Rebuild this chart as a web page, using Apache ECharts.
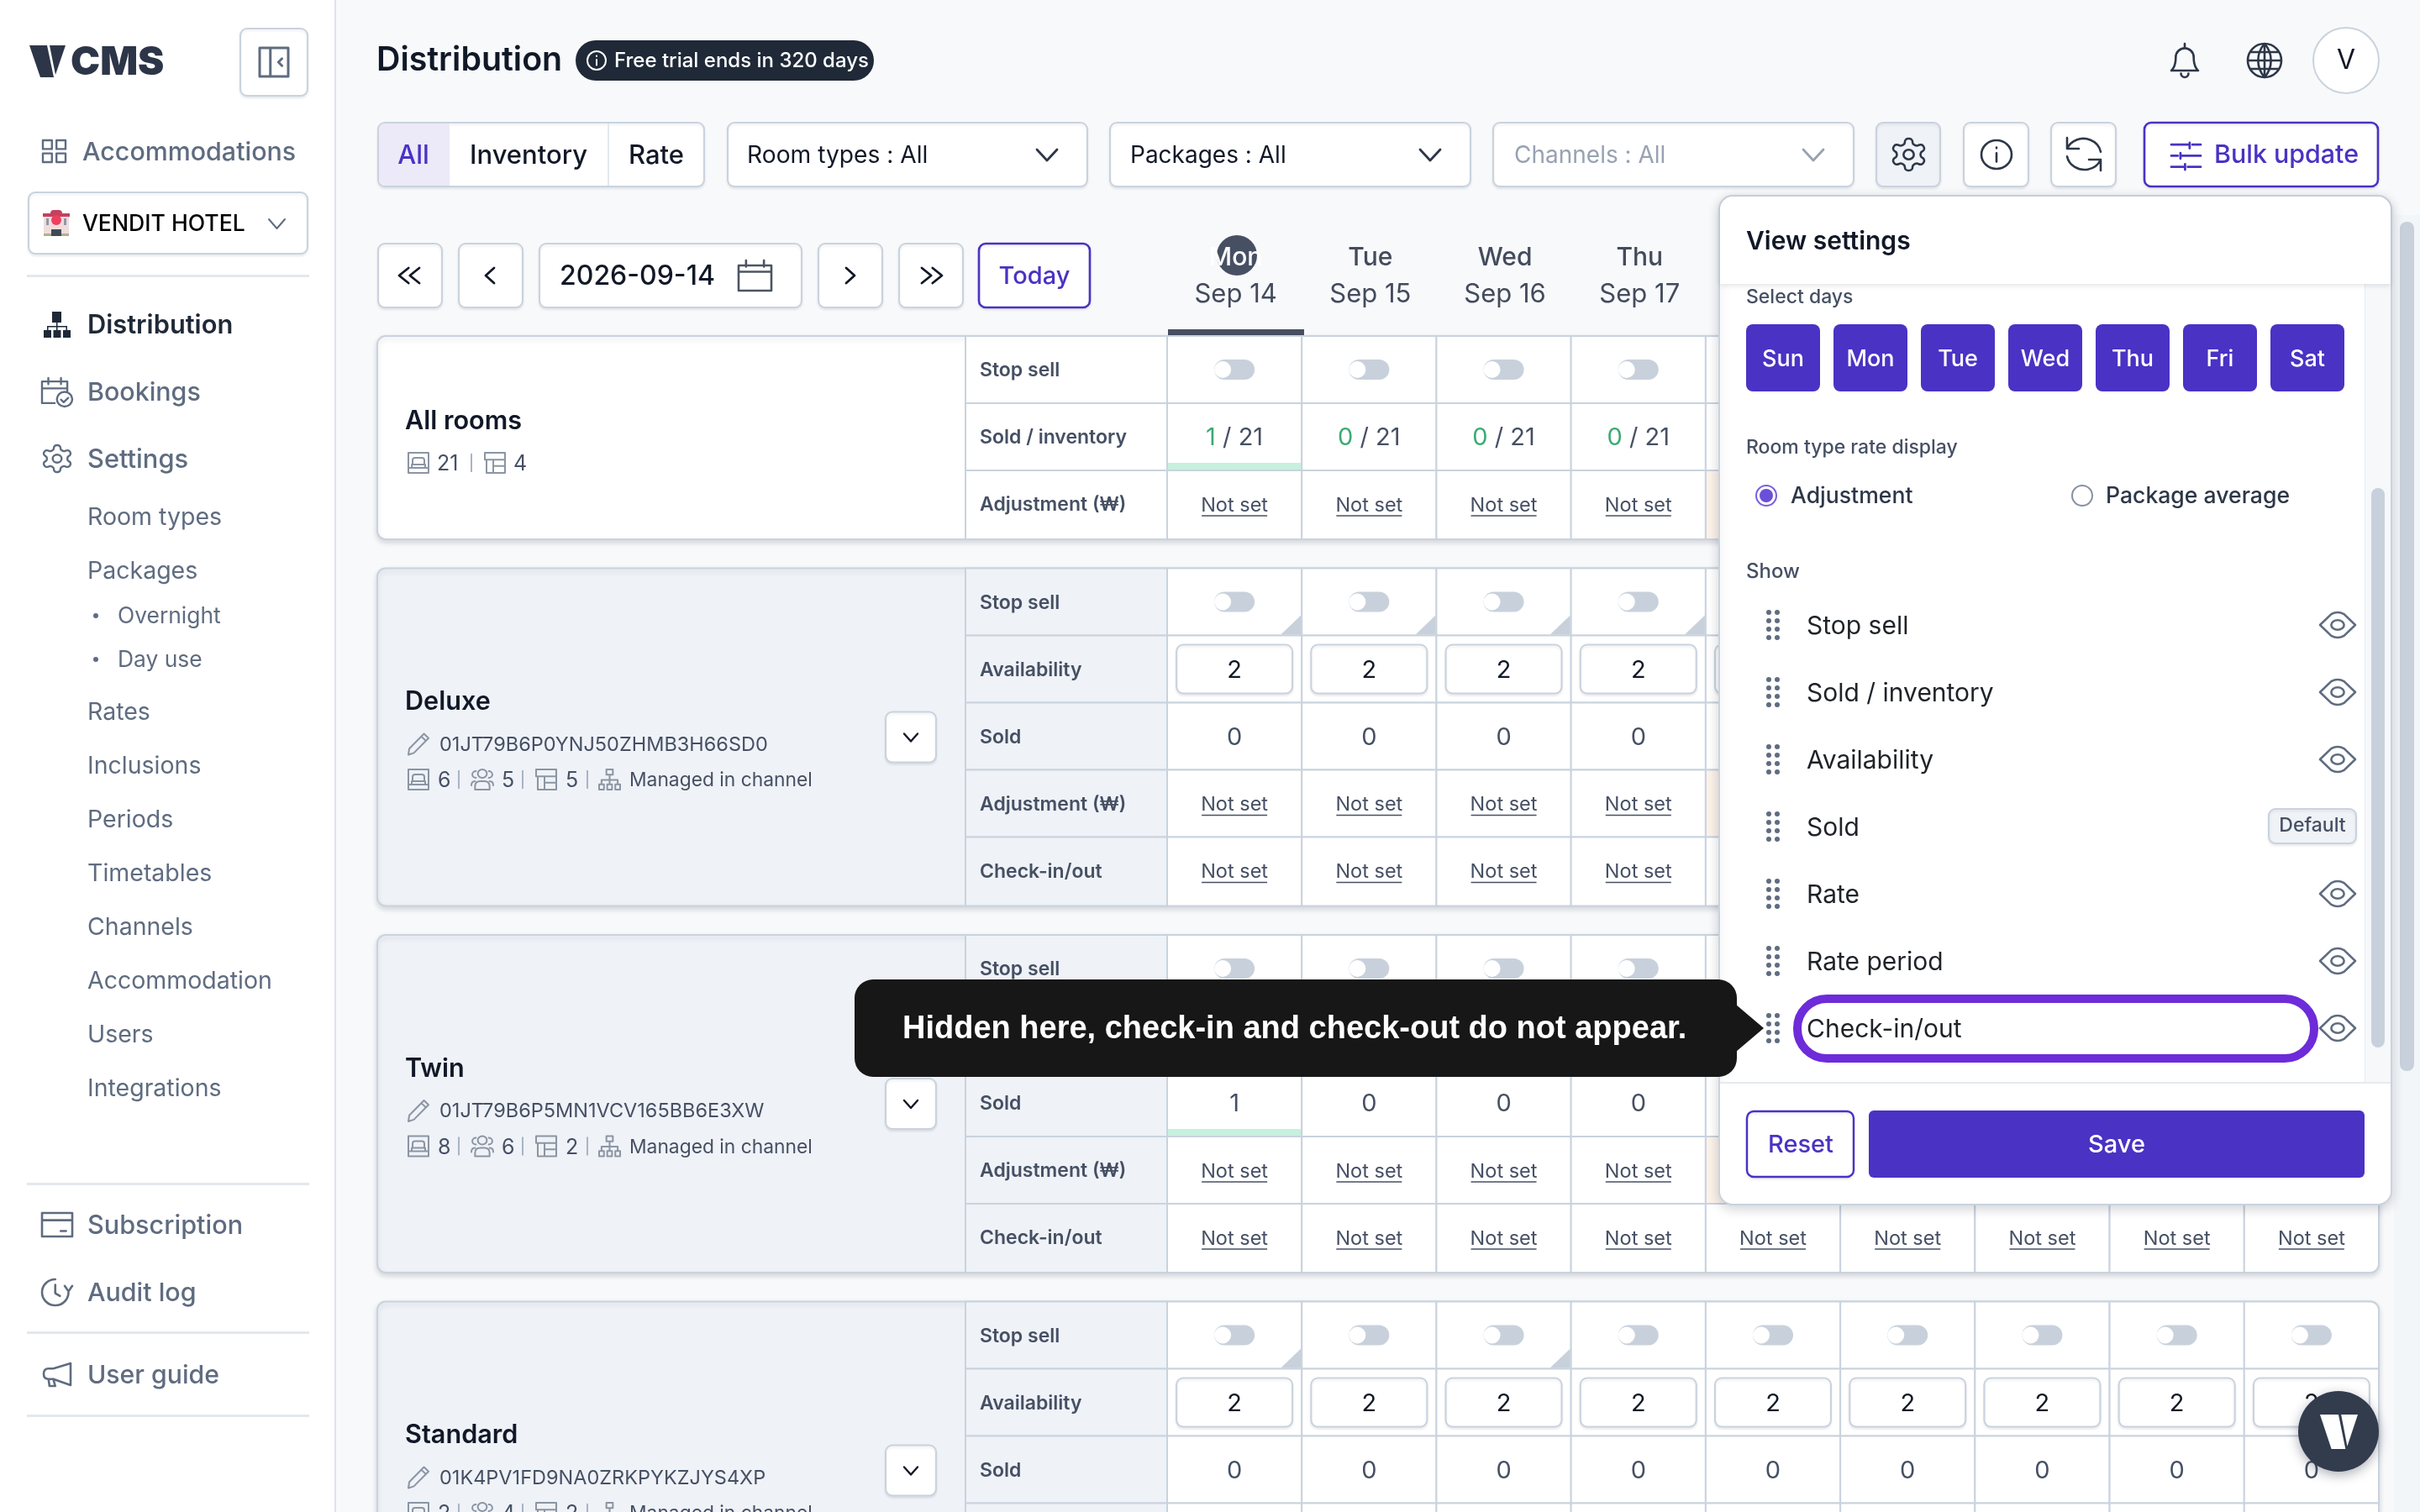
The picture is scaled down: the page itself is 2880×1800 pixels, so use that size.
<!DOCTYPE html>
<html>
<head>
<meta charset="utf-8">
<title>Distribution</title>
<script src="https://cdn.jsdelivr.net/npm/echarts@6/dist/echarts.min.js"></script>
<style>
  html, body { margin: 0; padding: 0; background: #f8f9fb; }
  #chart { width: 2880px; height: 1800px; }
</style>
</head>
<body>
<div id="chart"></div>
<script>
// table data
const weekdays = ['Mon', 'Tue', 'Wed', 'Thu', 'Fri', 'Sat', 'Sun', 'Mon', 'Tue']
const dates = ['Sep 14', 'Sep 15', 'Sep 16', 'Sep 17', 'Sep 18', 'Sep 19', 'Sep 20', 'Sep 21', 'Sep 22']
const roomNames = ['All rooms', 'Deluxe', 'Twin', 'Standard']
const roomIds = ['', '01JT79B6P0YNJ50ZHMB3H66SD0', '01JT79B6P5MN1VCV165BB6E3XW', '01K4PV1FD9NA0ZRKPYKZJYS4XP']
const bedCounts = [21, 6, 8, 2]
const guestCounts = [null, 5, 6, 4]
const packageCounts = [4, 5, 2, 2]
const allRoomsRows = ['Stop sell', 'Sold / inventory', 'Adjustment (₩)']
const roomTypeRows = ['Stop sell', 'Availability', 'Sold', 'Adjustment (₩)', 'Check-in/out']
const allRoomsInventory = 21
const allRoomsSold = [1, 0, 0, 0, 0, 0, 0, 0, 0]
const deluxeAvailability = [2, 2, 2, 2, 2, 2, 2, 2, 2]
const deluxeSold = [0, 0, 0, 0, 0, 0, 0, 0, 0]
const twinAvailability = [2, 2, 2, 2, 2, 2, 2, 2, 2]
const twinSold = [1, 0, 0, 0, 0, 0, 0, 0, 0]
const standardAvailability = [2, 2, 2, 2, 2, 2, 2, 2, 2]
const standardSold = [0, 0, 0, 0, 0, 0, 0, 0, 0]
const deluxeCorners = [1, 1, 1, 1, 0, 0, 0, 0, 0]
const twinCorners = [0, 0, 0, 0, 0, 0, 0, 0, 0]
const standardCorners = [1, 0, 1, 0, 0, 0, 0, 0, 0]
const adjustmentTinted = [0, 0, 0, 0, 1, 0, 0, 0, 0]
const standardAdjustmentTinted = [0, 0, 0, 0, 0, 0, 0, 0, 0]

// page text
const sideTop = ['Bookings', 'Settings']
const sideSub = ['Room types', 'Packages']
const sidePackages = ['Overnight', 'Day use']
const sideSettings = ['Rates', 'Inclusions', 'Periods', 'Timetables', 'Channels', 'Accommodation', 'Users', 'Integrations']
const selectDays = ['Sun', 'Mon', 'Tue', 'Wed', 'Thu', 'Fri', 'Sat']
const showRows = ['Stop sell', 'Sold / inventory', 'Availability', 'Sold', 'Rate', 'Rate period', 'Check-in/out']

const PURPLE = '#4a32c4'
const LINE = '#c9d3de'
const INK = '#111827'
const SLATE = '#465064'
const GREY = '#5f6c80'
const ICON_GREY = '#8b95a3'
const FONT = 'Inter'

const ICONS = {
  chevDown: 'M1 1L8 8L15 1',
  chevLeft: 'M8 1L1 8L8 15',
  chevRight: 'M1 1L8 8L1 15',
  dblLeft: 'M8 1L1 8L8 15M16 1L9 8L16 15',
  dblRight: 'M1 1L8 8L1 15M9 1L16 8L9 15',
  panel: 'M2 2H34V34H2ZM14 2V34M27 14L23 18L27 22',
  grid: 'M1 1H11V11H1ZM16 1H26V11H16ZM1 16H11V26H1ZM16 16H26V26H16Z',
  calendar: 'M1 5H23V25H1ZM1 10H23M6 1V6M18 1V6',
  bookings: 'M2 5H30V16M16 30H2V5M2 13H30M9 1V8M23 1V8M27 17a8.5 8.5 0 1 0 0.01 0ZM23 26l3 3l5-5',
  gear: 'M12.22 2h-.44a2 2 0 0 0-2 2v.18a2 2 0 0 1-1 1.73l-.43.25a2 2 0 0 1-2 0l-.15-.08a2 2 0 0 0-2.73.73l-.22.38a2 2 0 0 0 .73 2.73l.15.1a2 2 0 0 1 1 1.72v.51a2 2 0 0 1-1 1.74l-.15.09a2 2 0 0 0-.73 2.73l.22.38a2 2 0 0 0 2.73.73l.15-.08a2 2 0 0 1 2 0l.43.25a2 2 0 0 1 1 1.73V20a2 2 0 0 0 2 2h.44a2 2 0 0 0 2-2v-.18a2 2 0 0 1 1-1.73l.43-.25a2 2 0 0 1 2 0l.15.08a2 2 0 0 0 2.73-.73l.22-.39a2 2 0 0 0-.73-2.73l-.15-.08a2 2 0 0 1-1-1.74v-.5a2 2 0 0 1 1-1.74l.15-.09a2 2 0 0 0 .73-2.73l-.22-.38a2 2 0 0 0-2.73-.73l-.15.08a2 2 0 0 1-2 0l-.43-.25a2 2 0 0 1-1-1.73V4a2 2 0 0 0-2-2zM12 9a3 3 0 1 0 0 6a3 3 0 1 0 0-6z',
  bell: 'M12 4a6 6 0 0 0-6 6c0 7-3 9-3 9h18s-3-2-3-9a6 6 0 0 0-6-6zM9.5 21a2.5 2.5 0 0 0 5 0M12 1v3',
  globe: 'M12 2a10 10 0 1 0 0 20a10 10 0 1 0 0-20zM2 12h20M12 2v20M12 2a15 15 0 0 1 0 20a15 15 0 0 1 0-20zM3.5 7h17M3.5 17h17',
  info: 'M12 2a10 10 0 1 0 0 20a10 10 0 1 0 0-20zM12 11v6M12 7v.5',
  refresh: 'M2 2V9H9M2 9A10.5 10.5 0 0 1 22 11M2 14A10.5 10.5 0 0 0 22 16M15 16H22V23',
  sliders: 'M1 3H19M24 3H33M1 15H8M13 15H33M1 27H14M19 27H33M21 1V7M11 12V18M16 24V30',
  eye: 'M1 12L8 3Q12 0 16 3L23 12L16 21Q12 24 8 21ZM12 8a4 4 0 1 0 0 8a4 4 0 1 0 0-8z',
  bed: 'M1 1H25V25H1ZM1 19H25M6 15V10Q6 7 9 7H17Q20 7 20 10V15M5 19V15H21V19',
  pencil: 'M19 2L24 7L8 24L2 26L3 19ZM16 5L21 10',
  people: 'M13 1a5 5 0 1 0 0.01 0ZM6 3a4 4 0 0 0 0 8M20 3a4 4 0 0 1 0 8M5 25V21Q5 15 11 15H15Q21 15 21 21V25ZM1 20Q1 15 5 15M25 20Q25 15 21 15',
  table: 'M1 1H25V9H1ZM3 9V24H25V9M11 9V24M11 16H25',
  network: 'M10 1H18V7H10ZM14 7V13M4 18V13H24V18M14 13V18M1 18H7V24H1ZM11 18H17V24H11ZM21 18H27V24H21Z',
  card: 'M1 1H35V27H1ZM1 9H35M22 21H28',
  audit: 'M17 1a14 14 0 1 0 14 14M17 7V16L22 19M27 8l4 6l4-6',
  megaphone: 'M30 1V26L12 19H7Q2 19 2 13Q2 7 7 7H12ZM12 19L14 27H8L7 19',
  logoV: 'M0 0H21L29 38H13ZM24 0H43L31 35Z',
  org: 'M10 0H21V13H10ZM15 13H16.5V22H15ZM4 17H28V18.5H4ZM4 17H5.5V22H4ZM26.5 17H28V22H26.5ZM0 22H9V31H0ZM11.5 22H20.5V31H11.5ZM23 22H32V31H23Z'
}

// table layout in row units, one row is 80px on the y axis
const ROW_PX = 80
const LABEL_W = 240
const TITLE_W = 700
const cardGap = 36.5 / ROW_PX

const cells = []
let rowCursor = 0
roomNames.forEach((name, c) => {
  const labels = c === 0 ? allRoomsRows : roomTypeRows
  const sold = [allRoomsSold, deluxeSold, twinSold, standardSold][c]
  const avail = [null, deluxeAvailability, twinAvailability, standardAvailability][c]
  const corners = [null, deluxeCorners, twinCorners, standardCorners][c]
  const tints = c === 3 ? standardAdjustmentTinted : adjustmentTinted
  cells.push({ kind: 'card', col: 0, row: rowCursor, span: labels.length, card: c })
  labels.forEach((label, r) => {
    const row = rowCursor + r
    const lastRow = r === labels.length - 1
    cells.push({ kind: 'label', col: 0, row, text: label, lastRow, card: c })
    weekdays.forEach((_, d) => {
      const base = { col: d, row, firstRow: r === 0, lastRow }
      if (label === 'Stop sell') cells.push({ ...base, kind: 'toggle', corner: corners ? corners[d] : 0 })
      else if (label === 'Sold / inventory') cells.push({ ...base, kind: 'inventory', value: sold[d], total: allRoomsInventory })
      else if (label === 'Availability') cells.push({ ...base, kind: 'input', value: avail[d] })
      else if (label === 'Sold') cells.push({ ...base, kind: 'sold', value: sold[d] })
      else cells.push({ ...base, kind: 'notset', tint: label.startsWith('Adj') ? tints[d] : 0 })
    })
  })
  rowCursor += labels.length + cardGap
})

// element helpers
function rect(x, y, w, h, fill, o) {
  o = o || {}
  return {
    type: 'rect',
    shape: { x, y, width: w, height: h, r: o.r || 0 },
    style: {
      fill, stroke: o.stroke || null, lineWidth: o.lw || 0,
      shadowBlur: o.blur || 0, shadowColor: o.shadow || 'transparent',
      shadowOffsetX: 0, shadowOffsetY: o.dy || 0
    }
  }
}
function box(x, y, w, h, fill, stroke, lw) {
  return rect(x + 1, y + 1, w - 2, h - 2, fill || '#fff', {
    r: 8, stroke: stroke || LINE, lw: lw || 2, blur: 3, shadow: 'rgba(20,30,50,0.08)', dy: 2
  })
}
function text(str, x, y, font, fill, align) {
  return {
    type: 'text',
    style: {
      text: str, x, y: y + 1.5, font, fill,
      align: align || 'left', textAlign: align || 'left',
      verticalAlign: 'middle', textVerticalAlign: 'middle'
    }
  }
}
function icon(name, x, y, w, h, stroke, lw, fill) {
  return {
    type: 'path',
    shape: { pathData: ICONS[name], x, y, width: w, height: h, layout: 'cover' },
    style: { fill: fill || 'none', stroke: stroke || null, lineWidth: lw || 0, lineCap: 'round', lineJoin: 'round' }
  }
}
function dot(cx, cy, r, fill, stroke, lw) {
  return { type: 'circle', shape: { cx, cy, r }, style: { fill, stroke: stroke || null, lineWidth: lw || 0 } }
}
function line(x1, y1, x2, y2, stroke, lw) {
  return { type: 'line', shape: { x1, y1, x2, y2 }, style: { stroke, lineWidth: lw } }
}

// one table element: card, row label or day cell, placed from the axes
function renderCell(params, api) {
  const c = cells[params.dataIndex]
  const pt = api.coord([c.col, c.row])
  const size = api.size([1, 1])
  const cw = size[0]
  const rh = size[1]
  const cellH = rh + (c.lastRow ? 2 : 0)
  const left = pt[0] - cw / 2, top = pt[1], cx = pt[0], cy = top + rh / 2
  const kids = []

  if (c.kind === 'card') {
    const cardLeft = left - LABEL_W - TITLE_W
    const cardH = c.span * rh + 2
    const fill = c.card === 0 ? '#fff' : '#eff2f7'
    kids.push(rect(cardLeft, top, TITLE_W + LABEL_W + cw * weekdays.length, cardH, fill, {
      r: 10, stroke: LINE, lw: 2, blur: 6, shadow: 'rgba(20,30,50,0.14)', dy: 3
    }))
    const tx = cardLeft + 33
    const ix = cardLeft + 37
    const small = `400 23.5px ${FONT}`
    const digit = `400 25px ${FONT}`
    if (c.card === 0) {
      kids.push(text(roomNames[0], tx, top + 100, `600 30.6px ${FONT}`, INK))
      kids.push(icon('bed', ix, top + 139, 24, 24, ICON_GREY, 2))
      kids.push(text(String(bedCounts[0]), ix + 34, top + 151, digit, SLATE))
      kids.push(line(ix + 75, top + 140, ix + 75, top + 162, '#a9b4c6', 2))
      kids.push(icon('table', ix + 91, top + 139, 24, 24, ICON_GREY, 2))
      kids.push(text(String(packageCounts[0]), ix + 125, top + 151, digit, SLATE))
    } else {
      kids.push(text(roomNames[c.card], tx, top + 158, `600 30.6px ${FONT}`, INK))
      kids.push(icon('pencil', ix, top + 197, 24, 25, ICON_GREY, 2))
      kids.push(text(roomIds[c.card], ix + 37, top + 208.5, small, SLATE))
      const my = top + 251.5
      kids.push(icon('bed', ix, my - 12, 24, 24, ICON_GREY, 2))
      kids.push(text(String(bedCounts[c.card]), ix + 35, my, digit, SLATE))
      kids.push(line(ix + 60, my - 11, ix + 60, my + 11, '#a9b4c6', 2))
      kids.push(icon('people', ix + 75, my - 12, 26, 24, ICON_GREY, 2))
      kids.push(text(String(guestCounts[c.card]), ix + 111, my, digit, SLATE))
      kids.push(line(ix + 136, my - 11, ix + 136, my + 11, '#a9b4c6', 2))
      kids.push(icon('table', ix + 152, my - 12, 24, 24, ICON_GREY, 2))
      kids.push(text(String(packageCounts[c.card]), ix + 187, my, digit, SLATE))
      kids.push(line(ix + 213, my - 11, ix + 213, my + 11, '#a9b4c6', 2))
      kids.push(icon('network', ix + 227, my - 12, 25, 24, ICON_GREY, 2))
      kids.push(text('Managed in channel', ix + 263, my, `400 22.8px ${FONT}`, SLATE))
      // expand button
      const bx = cardLeft + TITLE_W - 96, by = top + c.span * rh / 2 - 30
      kids.push(box(bx, by, 62, 62, '#fff', LINE, 2))
      kids.push(icon('chevDown', bx + 23, by + 27, 16, 9, INK, 2.4))
    }
    return { type: 'group', children: kids }
  }

  if (c.kind === 'label') {
    const lx = left - LABEL_W
    kids.push(rect(lx, top, LABEL_W, cellH, c.card === 0 ? '#fff' : '#eff2f7', { stroke: LINE, lw: 2 }))
    kids.push(text(c.text, lx + 17, cy, `600 23px ${FONT}`, SLATE))
    return { type: 'group', children: kids }
  }

  // day cell
  const fill = c.tint ? '#fdf2e8' : '#fff'
  const lastCol = c.col === weekdays.length - 1
  const r = [0, lastCol && c.firstRow ? 10 : 0, lastCol && c.lastRow ? 10 : 0, 0]
  kids.push(rect(left, top, cw, cellH, fill, { stroke: LINE, lw: 2, r }))

  if (c.kind === 'toggle') {
    kids.push(rect(cx - 24, cy - 12, 48, 24, '#c8d1db', { r: 12 }))
    kids.push(dot(cx - 14, cy, 10, '#fff'))
    if (c.corner) {
      kids.push({
        type: 'polygon',
        shape: { points: [[left + cw - 1, top + rh - 24], [left + cw - 1, top + rh - 1], [left + cw - 25, top + rh - 1]] },
        style: { fill: '#c8d1db' }
      })
    }
  } else if (c.kind === 'inventory') {
    kids.push({
      type: 'text',
      style: {
        text: `{v|${c.value}}{t| / ${c.total}}`,
        x: cx, y: cy + 1.5, align: 'center', textAlign: 'center', verticalAlign: 'middle', textVerticalAlign: 'middle',
        rich: {
          v: { fill: '#3aab74', fontSize: 29, fontFamily: FONT },
          t: { fill: SLATE, fontSize: 29, fontFamily: FONT }
        }
      }
    })
    if (c.value > 0) kids.push(rect(left + 1, top + rh - 9, cw - 2, 8, '#c7f0de'))
  } else if (c.kind === 'input') {
    kids.push(box(cx - 70, cy - 30, 140, 60))
    kids.push(text(String(c.value), cx, cy, `400 29px ${FONT}`, INK, 'center'))
  } else if (c.kind === 'sold') {
    kids.push(text(String(c.value), cx, cy, `400 29px ${FONT}`, SLATE, 'center'))
    if (c.value > 0) kids.push(rect(left + 1, top + rh - 9, cw - 2, 8, '#c7f0de'))
  } else {
    kids.push(text('Not set', cx, cy, `400 23.5px ${FONT}`, SLATE, 'center'))
    kids.push(line(cx - 39, cy + 14, cx + 39, cy + 14, SLATE, 1.6))
  }
  return { type: 'group', children: kids }
}

// sidebar, header and toolbars under the table
function renderBelow() {
  const k = []
  k.push(rect(0, 0, 398, 1800, '#fff'))
  k.push(rect(398, 0, 2, 1800, '#dde3ea'))

  k.push(icon('logoV', 35, 54, 43, 38, null, 0, '#2d3648'))
  k.push(text('CMS', 84, 73, `900 47px ${FONT}`, '#2d3648'))
  k.push(box(285, 33, 82, 82))
  k.push(icon('panel', 309, 57, 34, 34, GREY, 3))

  k.push(icon('grid', 51, 167, 27, 26, GREY, 2.4))
  k.push(text('Accommodations', 98, 180, `500 30.4px ${FONT}`, GREY))
  k.push(box(33, 228, 334, 75))
  // hotel badge
  k.push(rect(52, 256, 30, 25, '#f1dcdc'))
  k.push(rect(51, 254, 32, 4, '#c5415f'))
  k.push(rect(60, 250, 14, 5, '#c5415f', { r: [4, 4, 0, 0] }))
  k.push(dot(67, 262, 6, '#ee3f62'))
  k.push(rect(55, 260, 3, 8, '#8a9aa8'))
  k.push(rect(76, 260, 3, 8, '#8a9aa8'))
  k.push(rect(61, 273, 12, 8, '#3f4a58'))
  k.push(rect(52, 278, 9, 3, '#a9b48a'))
  k.push(rect(73, 278, 9, 3, '#a9b48a'))
  k.push(text('VENDIT HOTEL', 98, 265, `500 26.6px ${FONT}`, '#000'))
  k.push(icon('chevDown', 320, 261, 19, 11, GREY, 2))
  k.push(rect(32, 327, 336, 3, '#e3e8ee'))

  k.push(icon('org', 52, 371, 32, 31, null, 0, '#1f2937'))
  k.push(text('Distribution', 104, 386, `600 30.8px ${FONT}`, '#1f2937'))
  k.push(icon('bookings', 50, 450, 36, 34, GREY, 2.4))
  k.push(text(sideTop[0], 104, 466, `500 30.4px ${FONT}`, GREY))
  k.push(icon('gear', 52, 530, 32, 32, GREY, 2.4))
  k.push(text(sideTop[1], 104, 546, `500 30.8px ${FONT}`, GREY))
  k.push(text(sideSub[0], 104, 615, `400 28.5px ${FONT}`, GREY))
  k.push(text(sideSub[1], 104, 679, `400 28.5px ${FONT}`, GREY))
  sidePackages.forEach((s, i) => {
    const y = 733 + i * 52
    k.push(dot(114, y, 3, GREY))
    k.push(text(s, 140, y, `400 26.4px ${FONT}`, GREY))
  })
  sideSettings.forEach((s, i) => k.push(text(s, 104, 847 + i * 64, `400 28.5px ${FONT}`, GREY)))

  k.push(rect(32, 1408, 336, 3, '#e3e8ee'))
  k.push(icon('card', 50, 1444, 36, 28, GREY, 2.6))
  k.push(text('Subscription', 104, 1458, `500 30.6px ${FONT}`, GREY))
  k.push(icon('audit', 50, 1523, 36, 31, GREY, 2.6))
  k.push(text('Audit log', 104, 1538, `500 30.4px ${FONT}`, GREY))
  k.push(rect(32, 1585, 336, 3, '#e3e8ee'))
  k.push(icon('megaphone', 52, 1623, 32, 27, GREY, 2.6))
  k.push(text('User guide', 104, 1636, `500 30.2px ${FONT}`, GREY))
  k.push(rect(32, 1684, 336, 3, '#e3e8ee'))

  // header
  k.push(text('Distribution', 448, 71, `600 39.3px ${FONT}`, INK))
  k.push(rect(685, 48, 355, 48, '#1f2937', { r: 24 }))
  k.push(icon('info', 699, 61, 22, 22, '#fff', 2))
  k.push(text('Free trial ends in 320 days', 731, 71, `500 24px ${FONT}`, '#fff'))
  k.push(icon('bell', 2584, 52, 32, 40, '#2d3748', 2.6))
  k.push(icon('globe', 2675, 52, 40, 40, '#2d3748', 2.6))
  k.push(dot(2792, 72, 39, '#fff', LINE, 2))
  k.push(text('V', 2792, 71, `400 32px ${FONT}`, INK, 'center'))

  // filter row
  k.push(box(449, 145, 390, 78))
  k.push(rect(451, 147, 84, 74, '#ece9f8', { r: [7, 0, 0, 7] }))
  k.push(rect(723, 147, 2, 74, '#e3e8ee'))
  k.push(text('All', 492, 184, `500 31px ${FONT}`, PURPLE, 'center'))
  k.push(text('Inventory', 629, 184, `500 31px ${FONT}`, INK, 'center'))
  k.push(text('Rate', 781, 184, `500 31px ${FONT}`, INK, 'center'))
  k.push(box(865, 145, 430, 78))
  k.push(text('Room types : All', 889, 184, `400 28.2px ${FONT}`, INK))
  k.push(icon('chevDown', 1234, 178, 24, 13, '#2d3748', 2.8))
  k.push(box(1320, 145, 431, 78))
  k.push(text('Packages : All', 1345, 184, `400 28px ${FONT}`, INK))
  k.push(icon('chevDown', 1690, 178, 24, 13, '#2d3748', 2.8))
  k.push(box(1776, 145, 431, 78))
  k.push(text('Channels : All', 1802, 184, `400 28px ${FONT}`, '#98a2b2'))
  k.push(icon('chevDown', 2146, 178, 24, 13, '#98a2b2', 2.8))
  k.push(box(2232, 145, 78, 78, '#eff2f6'))
  k.push(icon('gear', 2253, 165, 37, 38, '#2d3748', 2.6))
  k.push(box(2336, 145, 79, 78))
  k.push(icon('info', 2358, 167, 36, 34, '#2d3748', 2.6))
  k.push(box(2440, 145, 79, 78))
  k.push(icon('refresh', 2460, 164, 40, 39, '#2d3748', 2.6))
  k.push(box(2551, 145, 280, 78, '#fff', PURPLE, 2.6))
  k.push(icon('sliders', 2584, 170, 35, 32, PURPLE, 2.8))
  k.push(text('Bulk update', 2635, 183, `500 30.4px ${FONT}`, PURPLE))

  // date row
  k.push(box(449, 289, 78, 78))
  k.push(icon('dblLeft', 475, 319, 24, 18, INK, 2.8))
  k.push(box(545, 289, 78, 78))
  k.push(icon('chevLeft', 578, 319, 10, 18, INK, 2.8))
  k.push(box(641, 289, 314, 78))
  k.push(text('2026-09-14', 666, 328, `500 32px ${FONT}`, INK))
  k.push(icon('calendar', 879, 310, 39, 36, '#4b5565', 2.6))
  k.push(box(973, 289, 78, 78))
  k.push(icon('chevRight', 1007, 319, 10, 18, INK, 2.8))
  k.push(box(1069, 289, 78, 78))
  k.push(icon('dblRight', 1097, 319, 24, 18, INK, 2.8))
  k.push(box(1164, 289, 134, 78, '#fff', PURPLE, 2.6))
  k.push(text('Today', 1231, 328, `500 29px ${FONT}`, PURPLE, 'center'))

  // current day marker
  k.push(dot(1472, 304, 24, '#475063'))
  k.push(rect(1390, 392, 162, 8, '#475063'))
  return { type: 'group', children: k }
}

// settings panel, hint and floating button over the table
function renderAbove() {
  const k = []
  // page scrollbar
  k.push(rect(2849, 256, 31, 1544, '#f3f6f9'))
  k.push(rect(2856, 264, 17, 1011, '#c8d1db', { r: 8 }))

  k.push(rect(2046, 233, 800, 1201, '#fff', { r: 16, stroke: LINE, lw: 2, blur: 14, shadow: 'rgba(20,30,50,0.18)', dy: 4 }))
  k.push(rect(2815, 338, 30, 951, '#f6f8fa'))
  k.push(rect(2814, 338, 1, 951, '#e8ecf1'))
  k.push(rect(2822, 581, 16, 666, '#c8d1db', { r: 8 }))

  k.push(text('Select days', 2078, 352.5, `500 23px ${FONT}`, SLATE))
  k.push(rect(2047, 234, 798, 104, '#fff', { r: [16, 16, 0, 0], blur: 6, shadow: 'rgba(20,30,50,0.12)', dy: 2 }))
  k.push(text('View settings', 2078, 286, `600 30px ${FONT}`, INK))

  selectDays.forEach((d, i) => {
    const x = 2078 + i * 104
    k.push(rect(x, 386, 88, 80, PURPLE, { r: 8 }))
    k.push(text(d, x + 44, 426, `500 27px ${FONT}`, '#fff', 'center'))
  })

  k.push(text('Room type rate display', 2078, 532, `500 23px ${FONT}`, SLATE))
  k.push(dot(2102, 590, 12, '#fff', '#7a5fe0', 2))
  k.push(dot(2102, 590, 8, '#6b4fd8'))
  k.push(text('Adjustment', 2131, 589, `500 26.6px ${FONT}`, '#2d3748'))
  k.push(dot(2478, 590, 12, '#fff', '#8792a2', 2))
  k.push(text('Package average', 2506, 589, `500 26.6px ${FONT}`, '#2d3748'))
  k.push(text('Show', 2078, 679, `500 24px ${FONT}`, SLATE))

  showRows.forEach((s, i) => {
    const y = 744 + i * 80
    ;[2105, 2115].forEach(x => {
      ;[-15, -5, 5, 15].forEach(dy => k.push(dot(x, y + dy, 3, GREY)))
    })
    if (s === 'Check-in/out') {
      k.push(rect(2139, 1189, 615, 71, '#fff', { r: 35, stroke: '#6d2bd9', lw: 10 }))
    }
    k.push(text(s, 2150, y, `400 30px ${FONT}`, '#1f2328'))
    if (s === 'Sold') {
      k.push(box(2699, 962, 106, 43, '#eff2f6'))
      k.push(text('Default', 2752, 982, `500 23px ${FONT}`, SLATE, 'center'))
    } else {
      k.push(icon('eye', 2761, y - 15, 42, 30, GREY, 2.6))
    }
  })

  k.push(rect(2047, 1289, 798, 144, '#fff', { r: [0, 0, 16, 16] }))
  k.push(rect(2047, 1288, 798, 2, '#e6eaef'))
  k.push(box(2078, 1322, 129, 80, '#fff', PURPLE, 2.4))
  k.push(text('Reset', 2143, 1362, `500 29px ${FONT}`, PURPLE, 'center'))
  k.push(rect(2224, 1322, 590, 80, PURPLE, { r: 6 }))
  k.push(text('Save', 2519, 1362, `500 29px ${FONT}`, '#fff', 'center'))

  // hint bubble
  k.push(rect(1017, 1166, 1050, 116, '#171717', { r: 22 }))
  k.push({
    type: 'polygon',
    shape: { points: [[2066, 1196], [2099, 1224], [2066, 1252]] },
    style: { fill: '#171717' }
  })
  k.push(text('Hidden here, check-in and check-out do not appear.', 1074, 1224, '700 38px "Liberation Sans"', '#fff'))

  // floating button
  k.push({
    type: 'circle',
    shape: { cx: 2783, cy: 1704, r: 48 },
    style: { fill: '#333c4d', shadowBlur: 14, shadowColor: 'rgba(20,30,50,0.35)', shadowOffsetY: 4 }
  })
  k.push(icon('logoV', 2761, 1684, 45, 41, null, 0, '#fff'))
  return { type: 'group', children: k }
}

const chart = echarts.init(document.getElementById('chart'), null, { renderer: 'canvas' })

chart.setOption({
  animation: false,
  backgroundColor: '#f8f9fb',
  grid: { left: 1389, top: 400, width: 1442, height: 1400, containLabel: false },
  xAxis: {
    type: 'category',
    position: 'top',
    data: weekdays,
    z: 3,
    axisLine: { show: false },
    axisTick: { show: false },
    splitLine: { show: false },
    axisLabel: {
      margin: 27,
      interval: 0,
      padding: [0, 0, 0, 3],
      formatter: (v, i) => `{${i === 0 ? 'today' : 'day'}|${v}}\n{date|${dates[i]}}`,
      rich: {
        today: { color: '#fff', fontFamily: FONT, fontSize: 30, fontWeight: 500, lineHeight: 44, align: 'center' },
        day: { color: '#434b5c', fontFamily: FONT, fontSize: 30, fontWeight: 500, lineHeight: 44, align: 'center' },
        date: { color: '#434b5c', fontFamily: FONT, fontSize: 31, fontWeight: 400, lineHeight: 44, align: 'center' }
      }
    }
  },
  yAxis: {
    type: 'value',
    inverse: true,
    min: 0,
    max: 1400 / ROW_PX,
    show: false,
    splitLine: { show: false }
  },
  series: [
    { type: 'custom', coordinateSystem: 'none', z: 1, silent: true, data: [0], renderItem: renderBelow },
    {
      type: 'custom',
      z: 2,
      silent: true,
      encode: { x: 0, y: 1 },
      data: cells.map(c => [c.col, c.row]),
      renderItem: renderCell
    },
    { type: 'custom', coordinateSystem: 'none', z: 5, silent: true, data: [0], renderItem: renderAbove }
  ]
})

window.addEventListener('resize', () => chart.resize())
</script>
</body>
</html>
